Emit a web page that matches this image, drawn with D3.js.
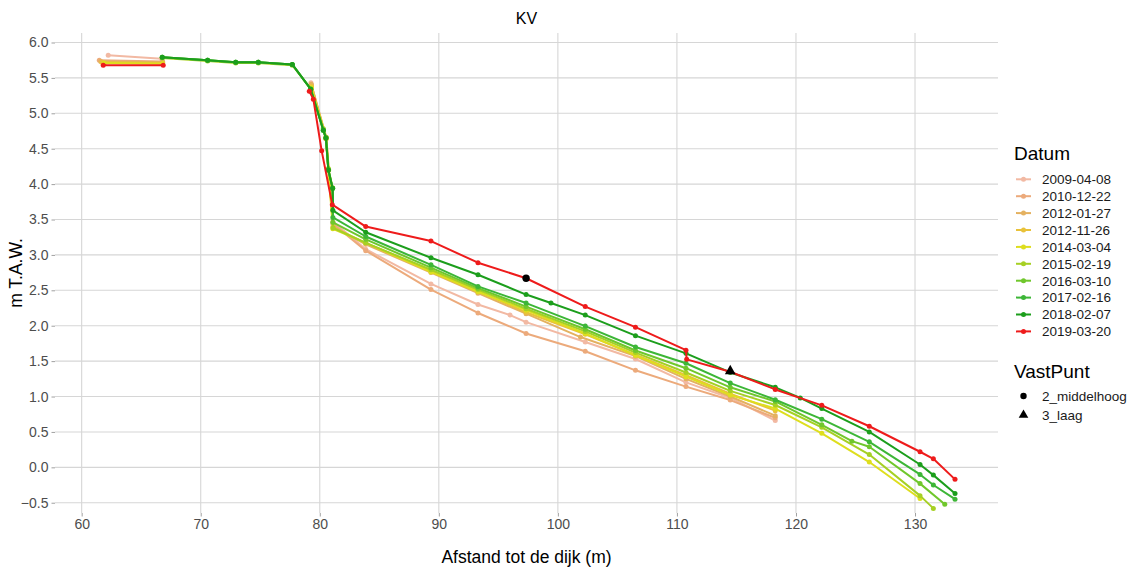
<!DOCTYPE html>
<html><head><meta charset="utf-8">
<script src="https://cdn.jsdelivr.net/npm/d3@7"></script>
<style>body{margin:0;background:#fff;} text{font-family:"Liberation Sans",Arial,sans-serif;}</style>
</head><body><svg id="c" width="1132" height="569"></svg>
<script>
// ---- data ----
const dates = ["2009-04-08","2010-12-22","2012-01-27","2012-11-26","2014-03-04","2015-02-19","2016-03-10","2017-02-16","2018-02-07","2019-03-20"];
const colors = ["#F2B9A3","#ECAA7B","#E4B160","#E9C23A","#DEDE1E","#A6D024","#70C72C","#3DB637","#1C9E1C","#EE1B1B"];

const s20090408 = [[62.23,5.82],[66.72,5.77],null,[79.26,5.43],[80.52,4.66],[81.1,3.47],[83.86,3.08],[89.34,2.59],[93.29,2.30],[95.98,2.15],[97.33,2.05],[102.3,1.77],[106.52,1.53],[110.76,1.20],[114.48,0.98],[118.26,0.66]];
const s20101222 = [[61.48,5.75],[66.8,5.73],null,[79.3,5.40],[80.5,4.64],[81.1,3.44],[83.86,3.06],[89.34,2.51],[93.29,2.18],[97.33,1.89],[102.3,1.64],[106.52,1.37],[110.76,1.14],[114.48,0.95],[118.26,0.70]];
const s20120127 = [[61.6,5.73],[66.8,5.72],null,[79.28,5.41],[80.55,4.66],[81.12,3.40],[83.86,3.15],[89.34,2.75],[93.29,2.46],[97.33,2.17],[101.9,1.84],[106.52,1.57],[110.76,1.25],[114.48,1.00],[118.26,0.73]];
const s20121126 = [[61.7,5.72],[66.8,5.71],null,[79.3,5.38],[80.55,4.64],[80.75,4.20],[81.12,3.39],[83.86,3.17],[89.34,2.78],[93.29,2.49],[97.33,2.19],[102.3,1.88],[106.52,1.59],[110.76,1.30],[114.48,1.04],[118.26,0.80]];
const s20140304 = [[61.9,5.71],[66.8,5.70],null,[79.3,5.36],[80.52,4.65],[80.72,4.21],[81.1,3.37],[83.86,3.17],[89.34,2.76],[93.29,2.48],[97.33,2.22],[102.3,1.89],[106.52,1.58],[110.76,1.28],[114.48,1.02],[118.26,0.83],[122.17,0.48],[126.16,0.075],[130.42,-0.44]];
const s20150219 = [[66.77,5.78],[70.58,5.74],[72.94,5.71],[74.84,5.71],[77.69,5.68],[79.24,5.35],[80.3,4.78],[80.52,4.66],[80.72,4.22],[81.08,3.95],[81.12,3.38],[83.86,3.17],[89.34,2.79],[93.29,2.51],[97.33,2.24],[102.3,1.92],[106.52,1.62],[110.76,1.34],[114.48,1.08],[118.26,0.88],[122.17,0.565],[126.16,0.18],[130.42,-0.40],[131.54,-0.58]];
const s20160310 = [[66.77,5.79],[70.58,5.75],[72.94,5.72],[74.84,5.72],[77.69,5.69],[79.24,5.34],[80.3,4.76],[80.52,4.65],[80.72,4.20],[81.08,3.94],[81.1,3.46],[83.86,3.22],[89.34,2.82],[93.29,2.53],[97.33,2.27],[102.3,1.95],[106.52,1.65],[110.76,1.40],[114.48,1.13],[118.26,0.93],[122.17,0.60],[124.7,0.37],[126.16,0.29],[130.42,-0.23],[132.5,-0.52]];
const s20170216 = [[66.77,5.79],[70.58,5.75],[72.94,5.72],[74.84,5.72],[77.69,5.69],[79.24,5.34],[80.3,4.76],[80.52,4.65],[80.72,4.20],[81.08,3.94],[81.1,3.53],[83.86,3.26],[89.34,2.86],[93.29,2.555],[97.33,2.32],[102.3,1.995],[106.52,1.70],[110.76,1.47],[114.48,1.19],[118.26,0.955],[122.17,0.68],[126.16,0.36],[130.42,-0.10],[131.54,-0.25],[133.36,-0.45]];
const s20180207 = [[66.77,5.79],[70.58,5.75],[72.94,5.72],[74.84,5.72],[77.69,5.69],[79.24,5.34],[80.3,4.76],[80.52,4.65],[80.72,4.20],[81.08,3.94],[81.1,3.63],[83.86,3.32],[89.34,2.96],[93.29,2.72],[97.33,2.44],[99.42,2.32],[102.3,2.15],[106.52,1.86],[110.76,1.61],[114.48,1.34],[118.26,1.13],[120.36,0.98],[122.17,0.83],[126.16,0.50],[130.42,0.04],[131.54,-0.11],[133.36,-0.37]];
const s20190320 = [[61.81,5.68],[66.85,5.68],null,[79.12,5.31],[79.46,5.20],[80.16,4.47],[81.05,3.71],[83.86,3.40],[89.34,3.195],[93.29,2.89],[97.33,2.67],[102.3,2.27],[106.52,1.98],[110.76,1.655],[110.82,1.525],[114.48,1.35],[118.26,1.10],[122.17,0.875],[126.16,0.58],[130.42,0.22],[131.54,0.12],[133.36,-0.17]];
const seriesList = [s20090408,s20101222,s20120127,s20121126,s20140304,s20150219,s20160310,s20170216,s20180207,s20190320];

const vastPuntNames = ["2_middelhoog","3_laag"];
const vastPuntX = [97.33,114.48];
const vastPuntY = [2.67,1.36];

const xTicks = [60,70,80,90,100,110,120,130];
const yTicks = [-0.5,0,0.5,1,1.5,2,2.5,3,3.5,4,4.5,5,5.5,6];

// ---- layout ----
const P = {l:55, r:998, t:33, b:513};
const svg = d3.select("#c");
const x = d3.scaleLinear().domain([57.76,136.97]).range([P.l,P.r]);
const y = d3.scaleLinear().domain([-0.645,6.134]).range([P.b,P.t]);

const grid = svg.append("g");
grid.selectAll(".gx").data(xTicks).join("line")
  .attr("x1",d=>x(d)).attr("x2",d=>x(d)).attr("y1",P.t).attr("y2",P.b)
  .attr("stroke","#D6D6D6").attr("stroke-width",1.1);
grid.selectAll(".gy").data(yTicks).join("line")
  .attr("x1",P.l).attr("x2",P.r).attr("y1",d=>y(d)).attr("y2",d=>y(d))
  .attr("stroke","#D6D6D6").attr("stroke-width",1.1);

const xAxis = svg.append("g").attr("transform",`translate(0,${P.b})`)
  .call(d3.axisBottom(x).tickValues(xTicks).tickSize(3.5).tickSizeOuter(0).tickPadding(3).tickFormat(d3.format("d")));
const yAxis = svg.append("g").attr("transform",`translate(${P.l},0)`)
  .call(d3.axisLeft(y).tickValues(yTicks).tickSize(3.5).tickSizeOuter(0).tickPadding(3).tickFormat(d3.format(".1f")));
[xAxis,yAxis].forEach(a=>{
  a.select(".domain").remove();
  a.selectAll(".tick line").attr("stroke","#A0A0A0");
  a.selectAll(".tick text").attr("fill","#4D4D4D").style("font-size","14px").style("font-family","Liberation Sans, Arial, sans-serif");
});

const line = d3.line().defined(d=>d!==null).x(d=>x(d[0])).y(d=>y(d[1]));
const plot = svg.append("g");
seriesList.forEach((s,i)=>{
  plot.append("path").attr("d",line(s)).attr("fill","none")
    .attr("stroke",colors[i]).attr("stroke-width",2).attr("stroke-linejoin","round");
  plot.selectAll(null).data(s.filter(d=>d!==null)).join("circle")
    .attr("cx",d=>x(d[0])).attr("cy",d=>y(d[1])).attr("r",2.5).attr("fill",colors[i]);
});
// VastPunt markers
plot.append("circle").attr("cx",x(vastPuntX[0])).attr("cy",y(vastPuntY[0])).attr("r",3.7).attr("fill","#000");
plot.append("path").attr("d",d3.symbol().type(d3.symbolTriangle).size(50)())
  .attr("transform",`translate(${x(vastPuntX[1])},${y(vastPuntY[1])})`).attr("fill","#000");

// titles
svg.append("text").attr("x",(P.l+P.r)/2).attr("y",24).attr("text-anchor","middle").style("font-size","16px").attr("fill","#000").text("KV");
svg.append("text").attr("x",(P.l+P.r)/2).attr("y",563).attr("text-anchor","middle").style("font-size","17.5px").attr("fill","#000").text("Afstand tot de dijk (m)");
svg.append("text").attr("transform",`translate(22,${(P.t+P.b)/2}) rotate(-90)`).attr("text-anchor","middle").style("font-size","17.5px").attr("fill","#000").text("m T.A.W.");

// legend
const lg = svg.append("g");
lg.append("text").attr("x",1014).attr("y",160).style("font-size","19px").attr("fill","#000").text("Datum");
dates.forEach((d,i)=>{
  const yy = 179.3 + i*16.9;
  lg.append("line").attr("x1",1016).attr("x2",1031).attr("y1",yy).attr("y2",yy).attr("stroke",colors[i]).attr("stroke-width",2);
  lg.append("circle").attr("cx",1023.5).attr("cy",yy).attr("r",2.5).attr("fill",colors[i]);
  lg.append("text").attr("x",1042).attr("y",yy+4.8).style("font-size","13.5px").attr("fill","#1A1A1A").text(d);
});
lg.append("text").attr("x",1014).attr("y",378).style("font-size","19px").attr("fill","#000").text("VastPunt");
const vpY = [396,415];
lg.append("circle").attr("cx",1023.5).attr("cy",vpY[0]).attr("r",3.2).attr("fill","#000");
lg.append("path").attr("d",d3.symbol().type(d3.symbolTriangle).size(40)()).attr("transform",`translate(1023.5,${vpY[1]})`).attr("fill","#000");
vastPuntNames.forEach((n,i)=>{
  lg.append("text").attr("x",1042).attr("y",vpY[i]+4.8).style("font-size","13.5px").attr("fill","#1A1A1A").text(n);
});
</script></body></html>
